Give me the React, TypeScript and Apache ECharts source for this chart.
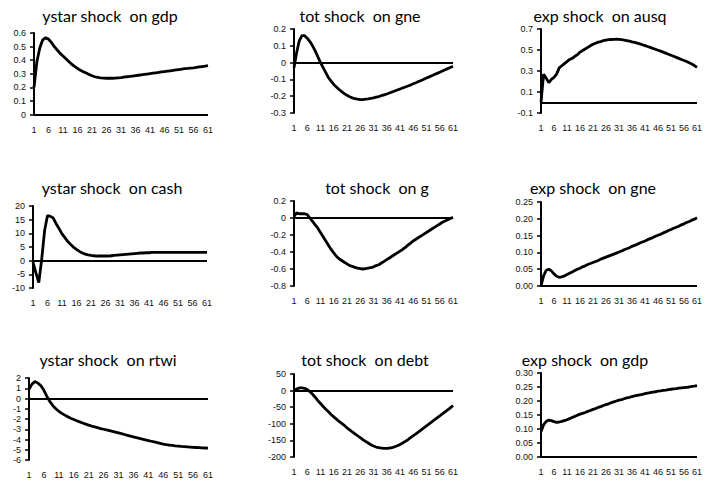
import React, { useEffect, useRef } from "react";
import * as echarts from "echarts";

// Horizon labels 1..61 (quarters after the shock)
const periods: string[] = Array.from({ length: 61 }, (_, i) => String(i + 1));

const ystarGdp = [
  0.2, 0.39, 0.49, 0.55, 0.565, 0.555, 0.53, 0.5, 0.475, 0.45,
  0.43, 0.41, 0.39, 0.37, 0.355, 0.34, 0.325, 0.315, 0.305, 0.295,
  0.285, 0.278, 0.273, 0.27, 0.268, 0.267, 0.267, 0.267, 0.268, 0.27,
  0.272, 0.275, 0.278, 0.28, 0.283, 0.286, 0.289, 0.292, 0.295, 0.298,
  0.301, 0.304, 0.307, 0.31, 0.313, 0.316, 0.319, 0.322, 0.325, 0.328,
  0.331, 0.334, 0.337, 0.339, 0.342, 0.344, 0.347, 0.35, 0.353, 0.356,
  0.36,
];

const totGne = [
  -0.03, 0.06, 0.13, 0.16, 0.16, 0.145, 0.125, 0.1, 0.07, 0.035,
  0.0, -0.03, -0.06, -0.09, -0.11, -0.13, -0.145, -0.16, -0.173, -0.185,
  -0.195, -0.203, -0.21, -0.215, -0.218, -0.22, -0.22, -0.218, -0.216, -0.213,
  -0.21, -0.206, -0.202, -0.197, -0.192, -0.187, -0.181, -0.175, -0.169, -0.163,
  -0.157, -0.151, -0.145, -0.139, -0.133, -0.126, -0.12, -0.113, -0.106, -0.099,
  -0.092, -0.085, -0.078, -0.071, -0.064, -0.057, -0.05, -0.043, -0.036, -0.029,
  -0.022,
];

const expAusq = [
  0.0, 0.27, 0.23, 0.19, 0.22, 0.24, 0.27, 0.33, 0.35, 0.37,
  0.39, 0.41, 0.42, 0.44, 0.455, 0.48, 0.495, 0.51, 0.525, 0.54,
  0.555, 0.565, 0.575, 0.58, 0.59, 0.595, 0.598, 0.6, 0.602, 0.603,
  0.601, 0.598, 0.595, 0.59, 0.585, 0.578, 0.572, 0.565, 0.558, 0.55,
  0.542, 0.533, 0.525, 0.516, 0.507, 0.498, 0.489, 0.48, 0.47, 0.46,
  0.45, 0.44, 0.43, 0.42, 0.41, 0.4, 0.39, 0.378, 0.366, 0.352,
  0.335,
];

const ystarCash = [
  -0.5, -4.5, -8.0, 0.5, 11.0, 16.5, 16.2, 15.6, 13.5, 11.7,
  9.8, 8.4, 7.0, 5.9, 4.9, 4.1, 3.4, 2.8, 2.4, 2.1,
  1.9, 1.8, 1.7, 1.7, 1.7, 1.7, 1.7, 1.8, 1.9, 2.0,
  2.1, 2.2, 2.3, 2.4, 2.5, 2.6, 2.7, 2.8, 2.8, 2.9,
  2.9, 3.0, 3.0, 3.0, 3.0, 3.0, 3.0, 3.0, 3.0, 3.0,
  3.0, 3.0, 3.0, 3.0, 3.0, 3.0, 3.0, 3.0, 3.0, 3.0,
  3.0,
];

const totG = [
  0.02, 0.06, 0.05, 0.05, 0.05, 0.04, 0.0, -0.04, -0.08, -0.12,
  -0.17, -0.22, -0.27, -0.32, -0.37, -0.41, -0.45, -0.48, -0.5, -0.52,
  -0.54, -0.56, -0.57, -0.58, -0.59, -0.595, -0.6, -0.595, -0.59, -0.585,
  -0.575, -0.56, -0.55, -0.53, -0.51, -0.49, -0.47, -0.45, -0.43, -0.41,
  -0.39, -0.37, -0.345, -0.32, -0.295, -0.27, -0.25, -0.23, -0.21, -0.19,
  -0.17, -0.15, -0.13, -0.11, -0.09, -0.07, -0.05, -0.035, -0.02, -0.005,
  0.01,
];

const expGne = [
  0.0, 0.03, 0.047, 0.05, 0.045, 0.036, 0.029, 0.026, 0.027, 0.03,
  0.034, 0.038, 0.042, 0.046, 0.05, 0.053, 0.057, 0.06, 0.064, 0.067,
  0.07, 0.073, 0.076, 0.08, 0.083, 0.086, 0.089, 0.092, 0.095, 0.098,
  0.101, 0.104, 0.108, 0.111, 0.114, 0.118, 0.121, 0.124, 0.128, 0.131,
  0.134, 0.138, 0.141, 0.144, 0.148, 0.151, 0.154, 0.158, 0.161, 0.165,
  0.168, 0.172, 0.175, 0.178, 0.182, 0.185, 0.189, 0.192, 0.196, 0.199,
  0.203,
];

const ystarRtwi = [
  0.9, 1.4, 1.65, 1.5, 1.25, 0.8, 0.2, -0.3, -0.7, -1.0,
  -1.25, -1.45, -1.62, -1.78, -1.92, -2.05, -2.17, -2.28, -2.39, -2.5,
  -2.6, -2.69, -2.77, -2.85, -2.93, -3.0, -3.07, -3.14, -3.21, -3.28,
  -3.35, -3.43, -3.51, -3.59, -3.67, -3.75, -3.82, -3.89, -3.96, -4.03,
  -4.1, -4.17, -4.24, -4.31, -4.38, -4.45, -4.5, -4.54, -4.58, -4.62,
  -4.65, -4.68, -4.7, -4.72, -4.74, -4.76, -4.78, -4.8, -4.82, -4.83,
  -4.85,
];

const totDebt = [
  0, 5, 8, 8, 7, 3, -3, -11, -20, -30,
  -39, -48, -56, -64, -72, -79, -86, -93, -99, -105,
  -112, -118, -124, -130, -136, -142, -148, -153, -158, -163,
  -167, -170, -172, -173, -174, -174, -173, -172, -169, -166,
  -162, -158, -153, -148, -142, -136, -130, -124, -118, -112,
  -106, -100, -94, -88, -82, -76, -70, -64, -58, -52,
  -45,
];

const expGdp = [
  0.09, 0.115, 0.127, 0.132, 0.13, 0.126, 0.124, 0.125, 0.127, 0.13,
  0.133, 0.137, 0.141, 0.145, 0.149, 0.153, 0.156, 0.159, 0.163, 0.166,
  0.17, 0.173, 0.177, 0.18, 0.184, 0.187, 0.19, 0.194, 0.197, 0.2,
  0.203, 0.205, 0.208, 0.211, 0.213, 0.216, 0.218, 0.22, 0.222, 0.224,
  0.226, 0.228, 0.23, 0.232, 0.233, 0.235, 0.236, 0.238, 0.239, 0.241,
  0.242, 0.243, 0.244, 0.246, 0.247, 0.248, 0.249, 0.25, 0.252, 0.253,
  0.255,
];

const titles = [
  "ystar shock  on gdp", "tot shock  on gne", "exp shock  on ausq",
  "ystar shock  on cash", "tot shock  on g", "exp shock  on gne",
  "ystar shock  on rtwi", "tot shock  on debt", "exp shock  on gdp",
];

const ausqTicks = [-0.1, 0.1, 0.3, 0.5, 0.7];

type Panel = {
  title: string;
  data: number[];
  min: number;
  max: number;
  interval?: number;
  ticks?: number[];
  decimals?: number;
  box: [number, number, number, number]; // left, top, width, height
  titlePos: [number, number];
};

const panels: Panel[] = [
  { title: titles[0], data: ystarGdp, min: 0, max: 0.6, interval: 0.1, box: [34, 33, 174, 81.5], titlePos: [110, 15] },
  { title: titles[1], data: totGne, min: -0.3, max: 0.2, interval: 0.1, box: [294, 29, 159, 84], titlePos: [360, 15] },
  { title: titles[2], data: expAusq, min: -0.1, max: 0.7, ticks: ausqTicks, box: [541, 29, 157, 84], titlePos: [600, 15] },
  { title: titles[3], data: ystarCash, min: -10, max: 20, interval: 5, box: [33, 206, 174, 82], titlePos: [112, 187] },
  { title: titles[4], data: totG, min: -0.8, max: 0.2, interval: 0.2, box: [294, 201, 159, 85], titlePos: [377, 187] },
  { title: titles[5], data: expGne, min: 0, max: 0.25, interval: 0.05, decimals: 2, box: [541, 202, 157, 84], titlePos: [593, 187] },
  { title: titles[6], data: ystarRtwi, min: -6, max: 2, interval: 1, box: [29, 378, 179, 82], titlePos: [108, 359] },
  { title: titles[7], data: totDebt, min: -200, max: 50, interval: 50, box: [294, 374, 159, 83], titlePos: [365, 359] },
  { title: titles[8], data: expGdp, min: 0, max: 0.3, interval: 0.05, decimals: 2, box: [541, 373, 158, 84], titlePos: [585, 359] },
];

const LABEL_FONT = "'Liberation Sans', Arial, sans-serif";
const TITLE_FONT = "Lato, 'Open Sans', sans-serif";

export default function App() {
  const ref = useRef<HTMLDivElement>(null);

  useEffect(() => {
    if (!ref.current) return;
    const chart = echarts.init(ref.current, null, { renderer: "svg" });

    const grid = panels.map((p) => ({
      left: p.box[0],
      top: p.box[1],
      width: p.box[2],
      height: p.box[3],
      containLabel: false,
    }));

    const xAxis = panels.map((_, i) => ({
      type: "category",
      gridIndex: i,
      data: periods,
      boundaryGap: false,
      axisLine: { show: false, onZero: false },
      axisTick: { show: false },
      splitLine: { show: false },
      axisLabel: {
        interval: 4,
        margin: 10.5,
        fontSize: 9,
        fontFamily: LABEL_FONT,
        color: "#111",
      },
    }));

    const yAxis = panels.map((p, i) => ({
      type: "value",
      gridIndex: i,
      min: p.min,
      max: p.max,
      ...(p.interval !== undefined ? { interval: p.interval } : {}),
      splitLine: { show: false },
      axisLine: { show: true, onZero: false, lineStyle: { color: "#000", width: 2 } },
      axisTick: {
        show: true,
        length: 4,
        lineStyle: { color: "#000", width: 1.5 },
        ...(p.ticks ? { customValues: p.ticks } : {}),
      },
      axisLabel: {
        margin: 8,
        fontSize: 9,
        fontFamily: LABEL_FONT,
        color: "#111",
        ...(p.ticks ? { customValues: p.ticks } : {}),
        formatter: (v: number) =>
          p.decimals !== undefined ? v.toFixed(p.decimals) : String(Math.round(v * 1000) / 1000),
      },
    }));

    const series = panels.map((p, i) => ({
      type: "line",
      xAxisIndex: i,
      yAxisIndex: i,
      data: p.data,
      showSymbol: false,
      symbol: "none",
      lineStyle: { color: "#000", width: 2.8 },
      z: 3,
      markLine: {
        silent: true,
        symbol: "none",
        label: { show: false },
        lineStyle: { color: "#000", width: 2, type: "solid" },
        data: [{ yAxis: 0 }],
        z: 2,
      },
    }));

    const graphic = panels.map((p) => ({
      type: "text",
      x: p.titlePos[0],
      y: p.titlePos[1],
      style: {
        text: p.title,
        fill: "#000",
        font: `16px ${TITLE_FONT}`,
        textAlign: "center",
        textVerticalAlign: "middle",
      },
    }));

    chart.setOption({
      animation: false,
      backgroundColor: "#fff",
      grid,
      xAxis,
      yAxis,
      series,
      graphic,
    } as any);

    return () => chart.dispose();
  }, []);

  return (
    <div
      ref={ref}
      style={{ position: "absolute", left: 0, top: 0, width: 705, height: 483 }}
    />
  );
}
